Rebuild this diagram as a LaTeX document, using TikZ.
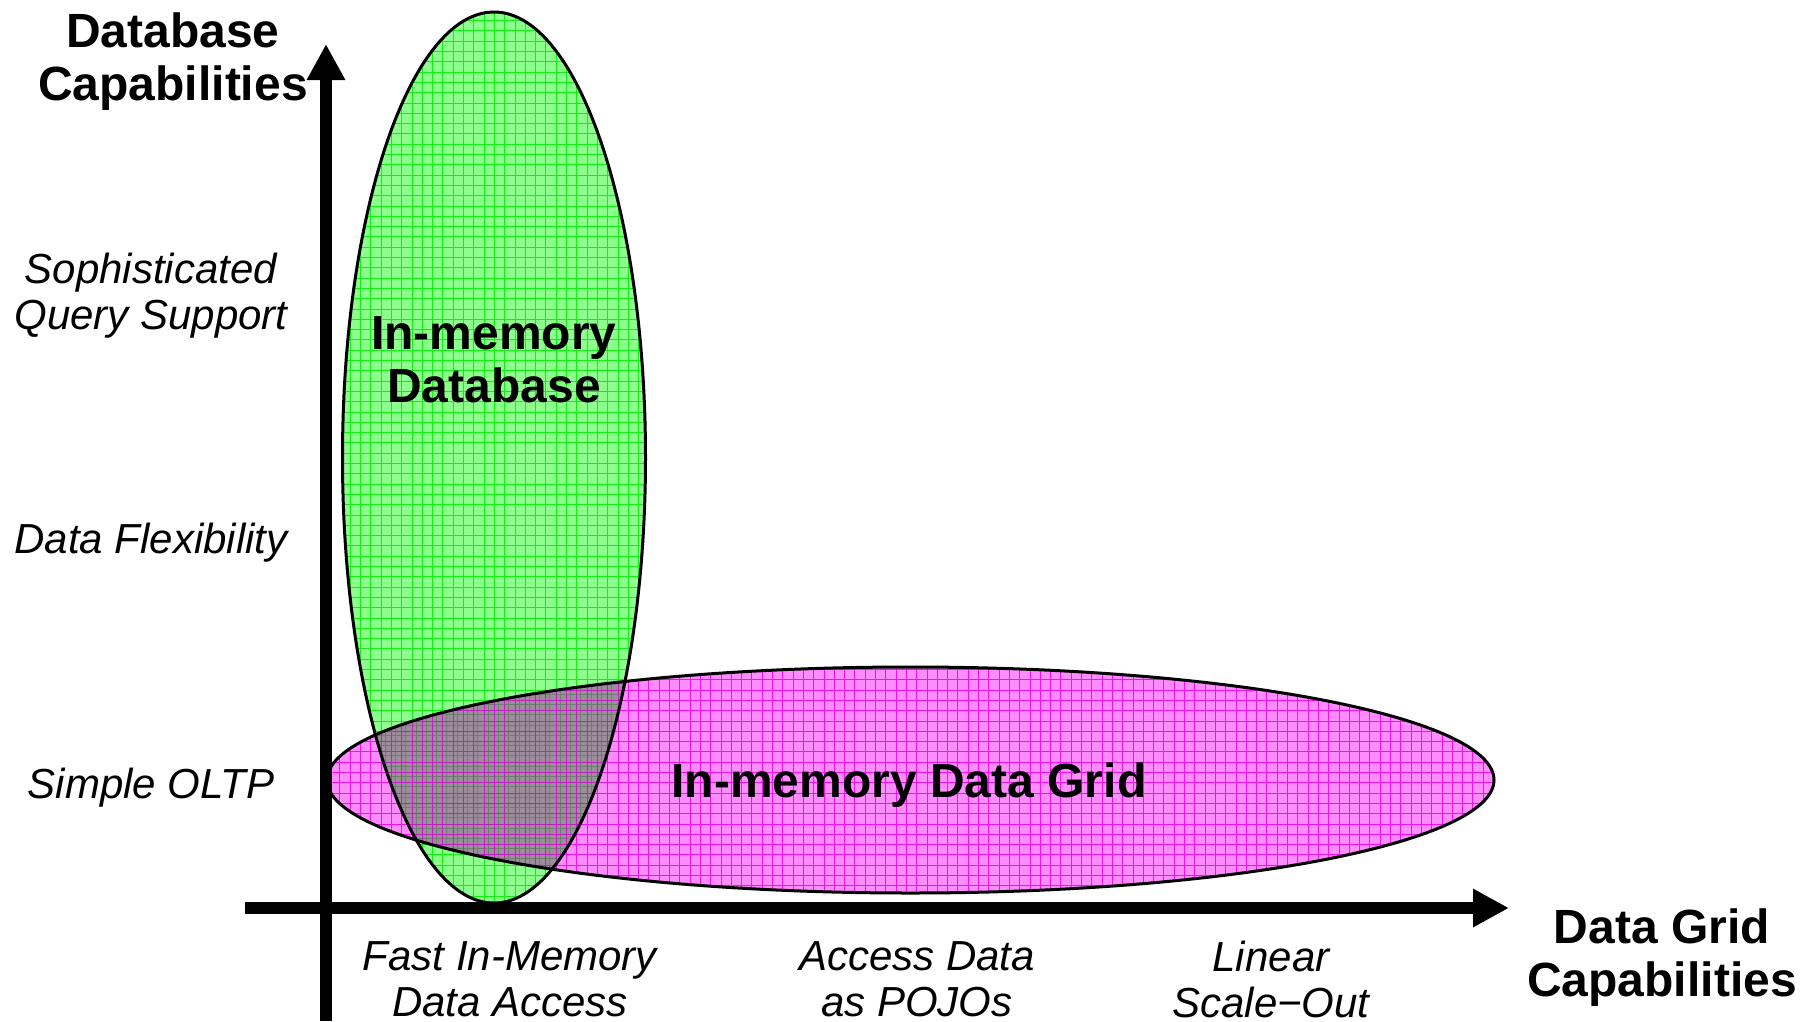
\documentclass[tikz,border=0pt]{standalone}
\usepackage{fontspec}
\setmainfont{Liberation Sans}
\usetikzlibrary{arrows.meta}
\definecolor{dbfill}{HTML}{8CFF8C}
\definecolor{dbline}{HTML}{10F010}
\definecolor{dgfill}{HTML}{FF8CFF}
\definecolor{dgline}{HTML}{F010F0}
\definecolor{bothfill}{HTML}{9C8C9C}
\definecolor{bothlineA}{HTML}{C020C0}
\definecolor{bothlineB}{HTML}{708070}
\begin{document}
\begin{tikzpicture}[x=1pt,y=-1pt,
  axis/.style={line width=12pt,-{Triangle[length=36pt,width=36pt]}},
  heading/.style={font=\fontsize{48}{53}\selectfont\bfseries,align=center,inner sep=0pt},
  ticklabel/.style={font=\fontsize{42}{46}\selectfont\itshape,align=center,inner sep=0pt},
  oval/.style={line width=3pt,black},
  gridlines/.style={line width=1pt,step=10.3pt}
]
\useasboundingbox[fill=white] (0,0) rectangle (1813,1021);
\def\dbshape{(494,457.5) ellipse [x radius=151.5pt, y radius=445.5pt]}
\def\dgshape{(910.5,780) ellipse [x radius=583.5pt, y radius=113pt]}

% in-memory database oval
\fill[dbfill] \dbshape;
\begin{scope}
  \clip \dbshape;
  \draw[gridlines,dbline] (330,0) grid (660,920);
\end{scope}

% in-memory data grid oval
\fill[dgfill] \dgshape;
\begin{scope}
  \clip \dgshape;
  \draw[gridlines,dgline] (320,660) grid (1500,900);
\end{scope}

% region shared by both ovals
\begin{scope}
  \clip \dbshape;
  \clip \dgshape;
  \fill[bothfill] (330,660) rectangle (660,900);
  \draw[gridlines,bothlineB,shift={(4pt,-4pt)}] (320,650) grid (660,910);
  \draw[gridlines,bothlineA] (320,650) grid (660,910);
\end{scope}

\draw[oval] \dbshape;
\draw[oval] \dgshape;

% axes
\coordinate (ybot) at (326,1021);
\coordinate (ytip) at (326,44);
\coordinate (xleft) at (245,908);
\coordinate (xtip) at (1509,908);
\draw[axis] (ybot) -- (ytip);
\draw[axis] (xleft) -- (xtip);

% axis titles
\node[heading] (ytitle) at (173,62) {Database\\Capabilities};
\node[heading] (xtitle) at (1662,958) {Data Grid\\Capabilities};

% vertical axis levels
\node[ticklabel] (query) at (151,296) {Sophisticated\\Query Support};
\node[ticklabel] (flex) at (151,543) {Data Flexibility};
\node[ticklabel] (oltp) at (151,788) {Simple OLTP};

% horizontal axis levels
\node[ticklabel] (fast) at (510,979) {Fast In-Memory\\Data Access};
\node[ticklabel] (pojo) at (917,979) {Access Data\\as POJOs};
\node[ticklabel] (scale) at (1271,979) {Linear\\Scale−Out};

% oval captions
\node[heading] (dbname) at (494,360) {In-memory\\Database};
\node[heading] (dgname) at (909,785) {In-memory Data Grid};
\end{tikzpicture}
\end{document}
